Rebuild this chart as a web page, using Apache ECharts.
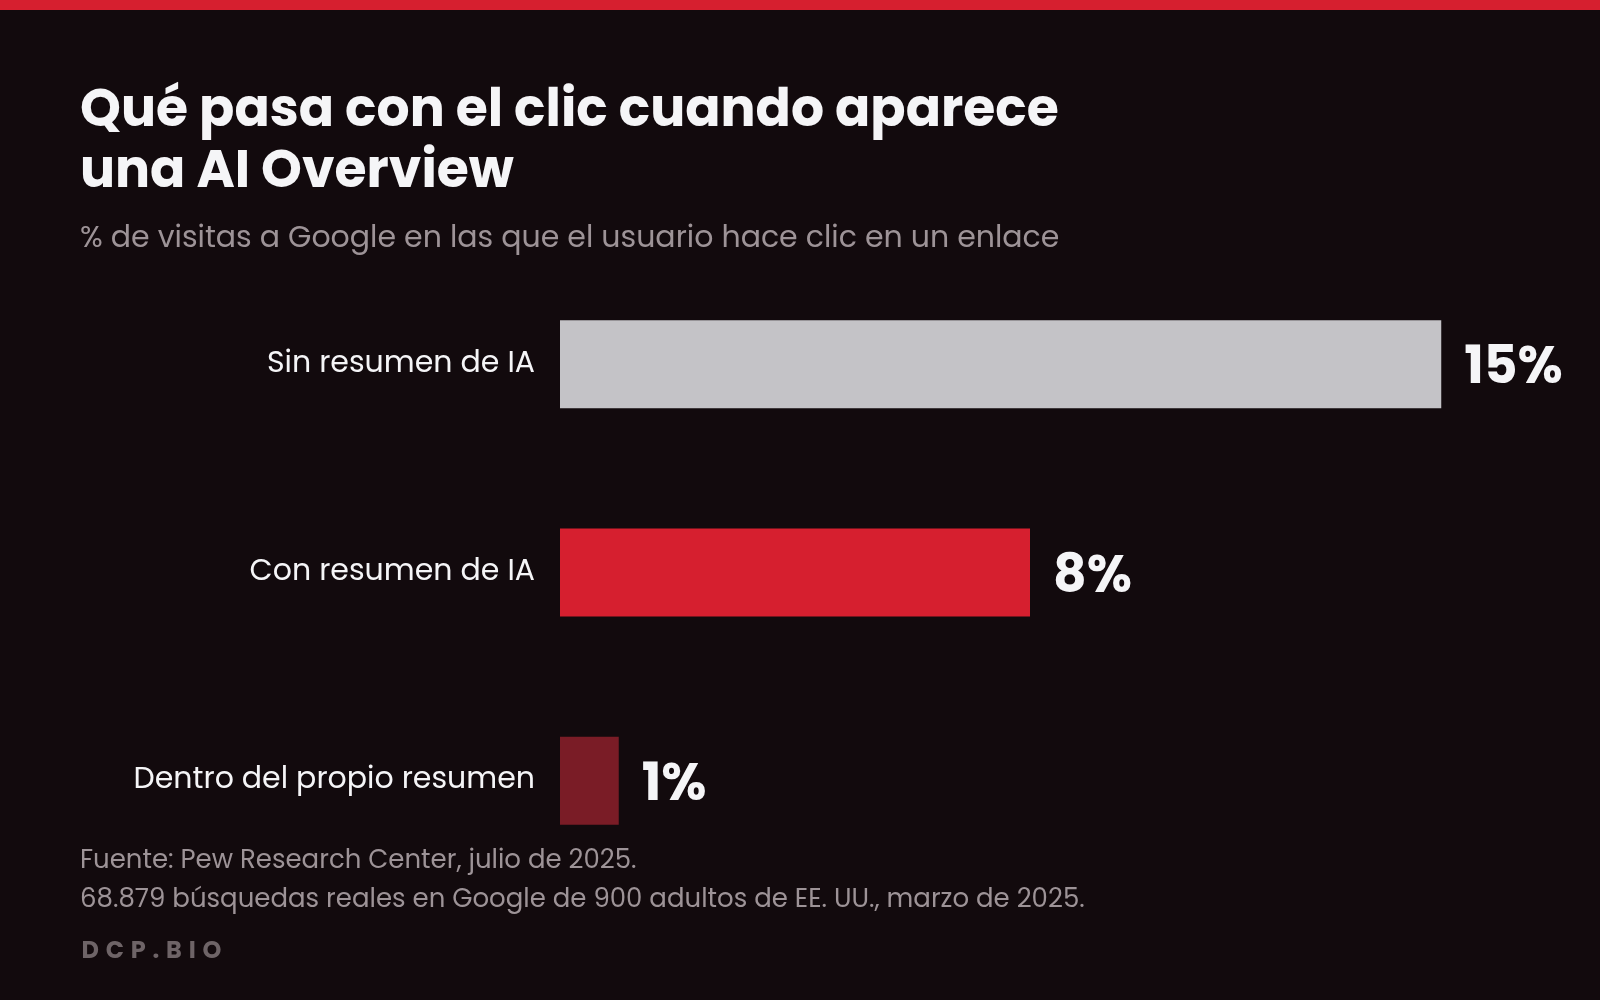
<!DOCTYPE html>
<html>
<head>
<meta charset="utf-8">
<script src="https://cdn.jsdelivr.net/npm/echarts@6/dist/echarts.min.js"></script>
<style>
html,body{margin:0;padding:0;background:#120a0d;}
#chart{width:1600px;height:1000px;}
</style>
</head>
<body>
<div id="chart"></div>
<script>
const categories = ['Sin resumen de IA', 'Con resumen de IA', 'Dentro del propio resumen'];
const values = [15, 8, 1];
const barColors = ['#c4c3c7', '#d61f2f', '#7a1c26'];
const titleText = 'Qué pasa con el clic cuando aparece\nuna AI Overview';
const subtitleText = '% de visitas a Google en las que el usuario hace clic en un enlace';
const sourceText = 'Fuente: Pew Research Center, julio de 2025.\n68.879 búsquedas reales en Google de 900 adultos de EE. UU., marzo de 2025.';
const brandText = 'DCP.BIO';

const FONT = 'Poppins, Inter, "Open Sans", sans-serif';
const chart = echarts.init(document.getElementById('chart'));
const brandRich = brandText.split('').map(ch => '{l|' + ch + '}').join('');

chart.setOption({
  backgroundColor: '#120a0d',
  animation: false,
  graphic: [{
    type: 'rect', left: 0, top: 0, shape: { width: 1600, height: 10 },
    style: { fill: '#d61f2f' }, silent: true
  }],
  title: [
    {
      text: titleText, left: 75, top: 77,
      textStyle: { fontFamily: FONT, fontSize: 52, fontWeight: 700, color: '#f5f5f7', lineHeight: 61 }
    },
    {
      text: subtitleText, left: 75, top: 216,
      textStyle: { fontFamily: FONT, fontSize: 30, fontWeight: 400, color: '#9d9397', lineHeight: 36 }
    },
    {
      text: sourceText, left: 75, top: 837,
      textStyle: { fontFamily: FONT, fontSize: 26, fontWeight: 400, color: '#9d9397', lineHeight: 39 }
    },
    {
      text: brandRich, left: 73, top: 935,
      textStyle: {
        rich: { l: { fontFamily: FONT, fontSize: 24, fontWeight: 700, color: '#6e6467', padding: [0, 3.4, 0, 3.4] } }
      }
    }
  ],
  grid: { left: 560, right: 100, top: 260, height: 625, containLabel: false },
  xAxis: {
    type: 'value', min: 0, max: 16, show: false
  },
  yAxis: {
    type: 'category', data: categories, inverse: true,
    axisLine: { show: false }, axisTick: { show: false }, splitLine: { show: false },
    axisLabel: { margin: 25, fontFamily: FONT, fontSize: 30, color: '#f5f5f7', padding: [0, 0, 6, 0] }
  },
  series: [{
    type: 'bar',
    barWidth: 88,
    data: values.map((v, i) => ({ value: v, itemStyle: { color: barColors[i] } })),
    label: {
      show: true, position: 'right', distance: 23, offset: [0, 6],
      formatter: '{c}%',
      fontFamily: FONT, fontSize: 52, fontWeight: 700, color: '#f5f5f7'
    }
  }]
});
</script>
</body>
</html>
